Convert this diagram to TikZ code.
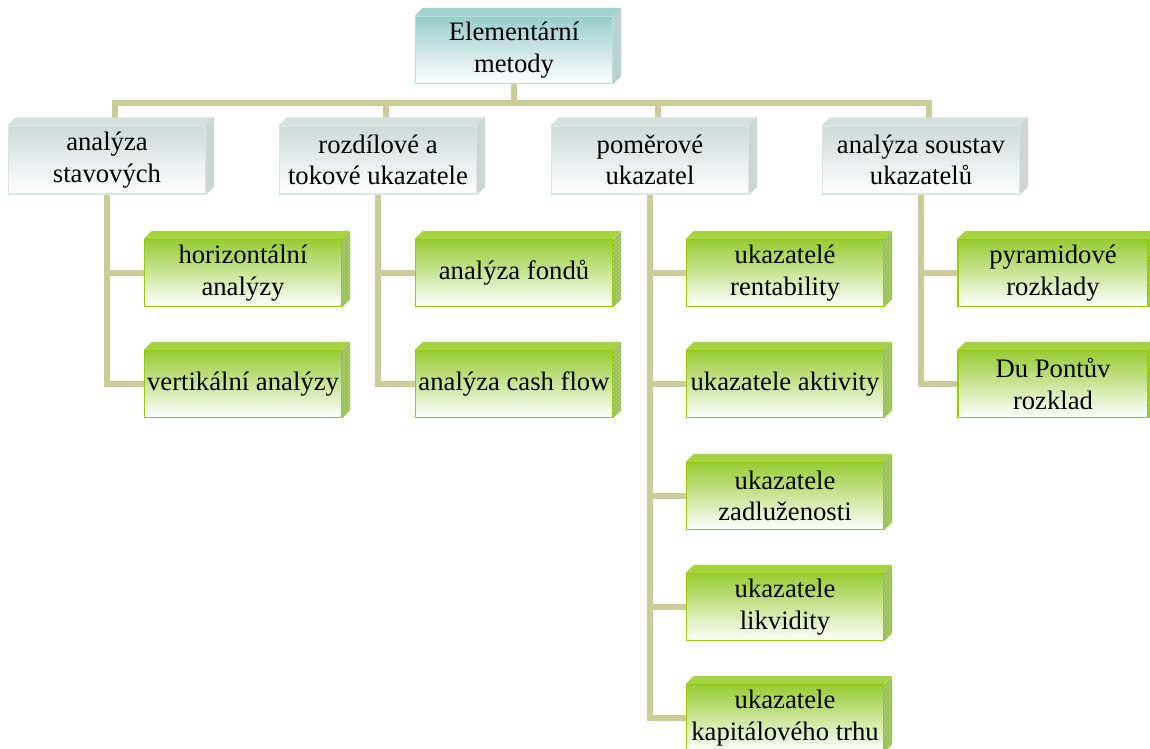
\documentclass[tikz,border=0pt]{standalone}
\usepackage{fontspec}
\setmainfont{Liberation Serif}
\usepackage{xcolor}
\usetikzlibrary{calc,patterns}

\definecolor{connkhaki}{RGB}{204,204,153}
\definecolor{tealtop}{RGB}{152,206,204}
\definecolor{tealedge}{RGB}{184,222,220}
\definecolor{tealface}{RGB}{160,210,208}
\definecolor{tealside}{RGB}{178,206,206}
\definecolor{greytop}{RGB}{206,218,218}
\definecolor{greyedge}{RGB}{218,228,228}
\definecolor{greyface}{RGB}{214,224,224}
\definecolor{greyside}{RGB}{200,210,210}
\definecolor{greentop}{RGB}{150,204,51}
\definecolor{greenedge}{RGB}{153,204,0}
\definecolor{greenface}{RGB}{164,212,64}
\definecolor{greenside}{RGB}{150,192,80}

\pgfdeclarelayer{background}
\pgfsetlayers{background,main}

\tikzset{
  conn/.style={draw=connkhaki,line width=4.5pt},
  basebox/.style={
    rectangle,
    line width=1.1pt,
    minimum width=147.75pt,
    minimum height=50.25pt,
    inner sep=0pt,
    align=center,
    text=black,
    font=\fontsize{20}{23.5}\selectfont
  },
  rootbox/.style={basebox,draw=tealedge,top color=tealtop,bottom color=white},
  catbox/.style={basebox,draw=greyedge,top color=greytop,bottom color=white,minimum height=51pt},
  leafbox/.style={basebox,draw=greenedge,top color=greentop,bottom color=white}
}

\begin{document}
\begin{tikzpicture}[x=0.75pt,y=-0.75pt]
    \useasboundingbox (0,0) rectangle (1150,749);

    \node[rootbox] (root) at (514,50) {Elementární\\metody};

    \node[catbox] (stav) at (107,160) {analýza\\stavových};
    \node[catbox] (tok) at (378,160) {rozdílové a\\tokové ukazatele};
    \node[catbox] (pom) at (650,160) {poměrové\\ukazatel};
    \node[catbox] (sous) at (921,160) {analýza soustav\\ukazatelů};

    \node[leafbox] (hor) at (243,273) {horizontální\\analýzy};
    \node[leafbox] (ver) at (243,384) {vertikální analýzy};
    \node[leafbox] (fond) at (514,273) {analýza fondů};
    \node[leafbox] (cash) at (514,384) {analýza cash flow};
    \node[leafbox] (rent) at (785,273) {ukazatelé\\rentability};
    \node[leafbox] (akt) at (785,384) {ukazatele aktivity};
    \node[leafbox] (zadl) at (785,496) {ukazatele\\zadluženosti};
    \node[leafbox] (likv) at (785,607) {ukazatele\\likvidity};
    \node[leafbox] (trh) at (785,718) {ukazatele\\kapitálového trhu};
    \node[leafbox,minimum width=142.5pt] (pyr) at (1053,273) {pyramidové\\rozklady};
    \node[leafbox,minimum width=142.5pt] (dup) at (1053,384) {Du Pontův\\rozklad};

    \foreach \n/\tc/\sc in {root/tealface/tealside,
        stav/greyface/greyside,tok/greyface/greyside,pom/greyface/greyside,sous/greyface/greyside,
        hor/greenface/greenside,ver/greenface/greenside,fond/greenface/greenside,cash/greenface/greenside,
        rent/greenface/greenside,akt/greenface/greenside,zadl/greenface/greenside,likv/greenface/greenside,
        trh/greenface/greenside,pyr/greenface/greenside,dup/greenface/greenside}{
      \fill[\tc] (\n.north west) -- ++(8,-8) -- ($(\n.north east)+(8,-8)$) -- (\n.north east) -- cycle;
      \fill[\sc] (\n.north east) -- ++(8,-8) -- ($(\n.south east)+(8,-8)$) -- (\n.south east) -- cycle;
      \fill[pattern=crosshatch dots,pattern color=white!75!\sc]
        (\n.north east) -- ++(8,-8) -- ($(\n.south east)+(8,-8)$) -- (\n.south east) -- cycle;
    }

    \begin{pgfonlayer}{background}
      \foreach \n in {stav,tok,pom,sous}
        \draw[conn] (root.south) -- ++(0,19) -| ($(\n.north)+(8,0)$);
      \foreach \p/\c in {stav/hor,stav/ver,tok/fond,tok/cash,pom/rent,pom/akt,pom/zadl,pom/likv,pom/trh,sous/pyr,sous/dup}
        \draw[conn] (\p.south) |- (\c.west);
    \end{pgfonlayer}
\end{tikzpicture}
\end{document}
